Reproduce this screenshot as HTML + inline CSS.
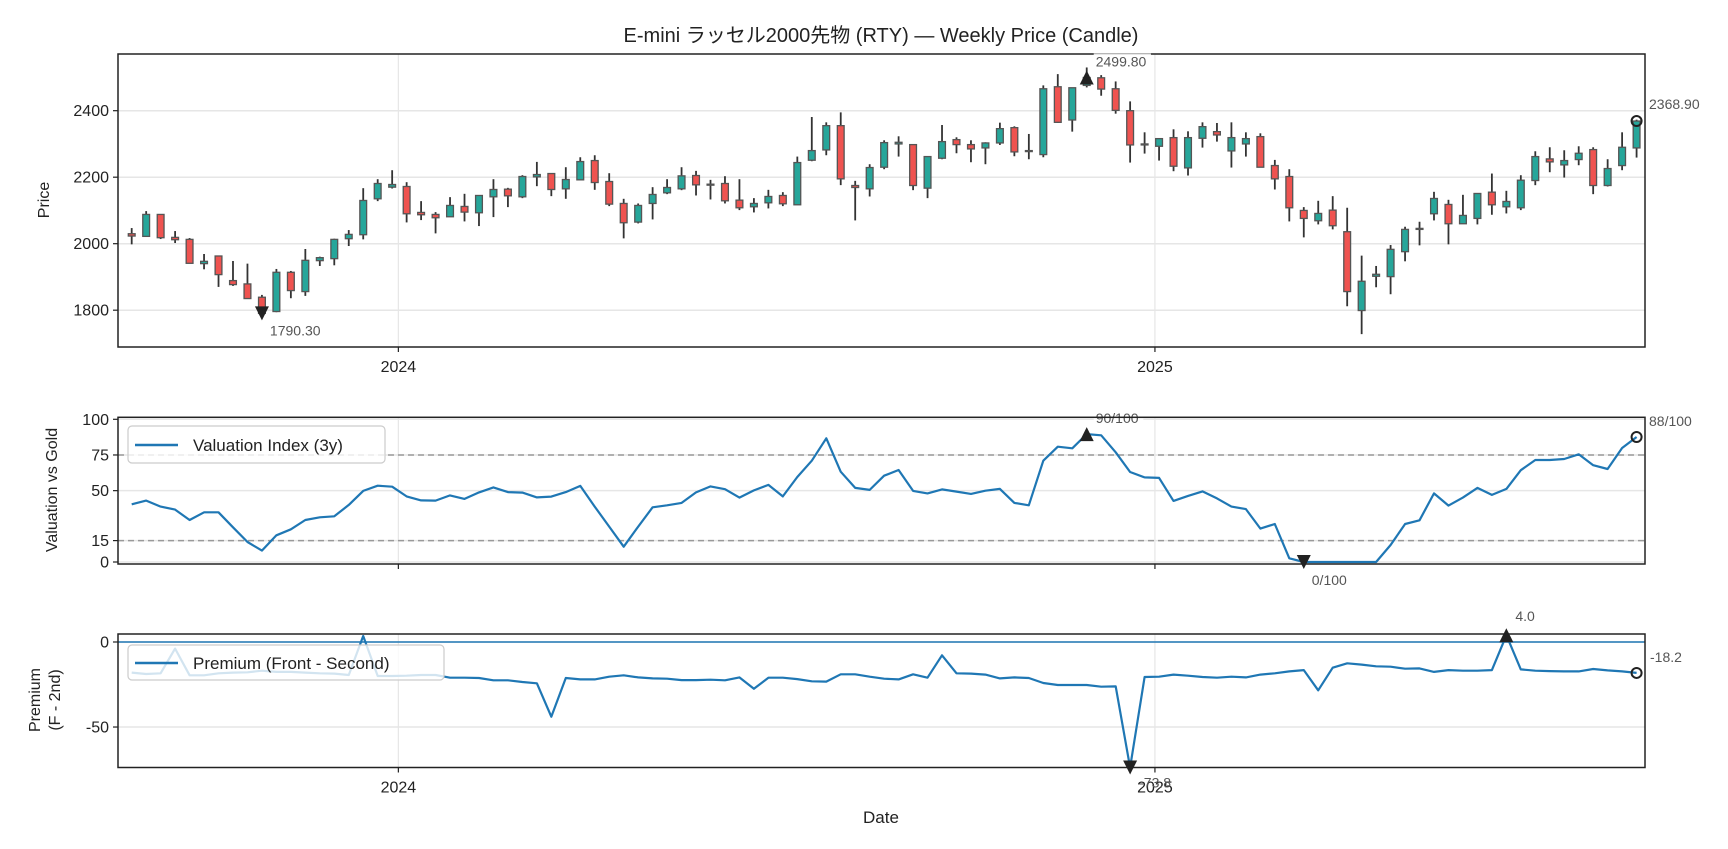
<!DOCTYPE html>
<html><head><meta charset="utf-8">
<style>
html,body{margin:0;padding:0;background:#fff;}
svg{display:block;font-family:"Liberation Sans","Noto Sans CJK JP",sans-serif;}
</style></head>
<body>
<svg id="chart" width="1728" height="849" viewBox="0 0 1728 849" xmlns="http://www.w3.org/2000/svg">
<rect x="0" y="0" width="1728" height="849" fill="#fff"/>
<text x="881" y="42" font-size="20" text-anchor="middle" fill="#222">E-mini ラッセル2000先物 (RTY) — Weekly Price (Candle)</text>
<g id="g1"></g><g id="g2"></g><g id="g3"></g>
</svg>
<script>
const opens=[2030,2022,2088,2019,2013,1940,1963,1889,1879,1839,1796,1914,1856,1949,1955,2015,2027,2135,2170,2172,2094,2088,2081,2112,2093,2141,2164,2141,2201,2211,2165,2192,2250,2187,2121,2065,2121,2153,2165,2205,2177,2181,2131,2111,2123,2145,2117,2251,2282,2355,2175,2165,2230,2300,2298,2167,2257,2313,2298,2288,2303,2349,2278,2268,2472,2372,2476,2499,2466,2400,2300,2293,2319,2228,2317,2337,2279,2300,2322,2235,2202,2100,2069,2101,2036,1799,1902,1901,1976,2044,2090,2118,2060,2076,2155,2111,2108,2190,2255,2237,2253,2283,2175,2235,2288];
const highs=[2047,2098,2088,2038,2017,1969,1963,1948,1940,1846,1924,1918,1984,1961,2015,2041,2167,2194,2221,2185,2128,2095,2140,2150,2145,2194,2168,2206,2246,2211,2230,2260,2266,2212,2135,2121,2170,2194,2230,2219,2192,2203,2194,2137,2162,2155,2262,2381,2365,2395,2189,2239,2311,2323,2298,2262,2357,2320,2311,2305,2364,2353,2330,2476,2510,2469,2530,2507,2488,2428,2335,2316,2344,2338,2365,2363,2365,2335,2332,2252,2224,2110,2129,2143,2108,1964,1933,1996,2051,2066,2156,2132,2147,2151,2211,2159,2206,2278,2290,2281,2293,2290,2254,2335,2373];
const lows=[1998,2022,2014,2002,1941,1923,1870,1873,1835,1788,1794,1836,1843,1933,1935,1993,2013,2128,2166,2064,2071,2031,2081,2067,2053,2080,2110,2137,2173,2143,2135,2192,2162,2113,2016,2061,2073,2149,2161,2145,2133,2121,2101,2094,2106,2113,2117,2248,2266,2176,2070,2142,2224,2262,2161,2137,2254,2272,2245,2239,2297,2263,2254,2260,2363,2337,2470,2445,2391,2244,2271,2250,2218,2205,2289,2307,2229,2262,2230,2163,2067,2019,2058,2043,1812,1728,1869,1848,1947,1995,2070,1998,2060,2058,2087,2091,2101,2176,2215,2199,2236,2149,2172,2221,2259];
const closes=[2023,2088,2018,2012,1941,1947,1907,1877,1835,1790.3,1914,1859,1950,1958,2013,2028,2130,2181,2178,2090,2087,2078,2115,2095,2145,2163,2144,2202,2208,2163,2193,2247,2184,2119,2063,2115,2148,2169,2204,2177,2179,2129,2108,2121,2142,2120,2244,2280,2355,2195,2169,2229,2304,2305,2175,2262,2307,2298,2285,2303,2346,2276,2280,2466,2365,2469,2499.8,2465,2401,2297,2299,2316,2233,2319,2352,2327,2319,2316,2230,2195,2108,2076,2091,2054,1856,1887,1908,1983,2043,2046,2136,2060,2085,2151,2117,2127,2191,2262,2246,2250,2272,2175,2226,2290,2368.9];
const valuation=[40.4,43,38.8,36.7,29.4,34.8,34.8,24.3,14,8,18.7,22.9,29.4,31.3,32,40,49.8,53.5,52.8,46,43.2,43,46.7,44.2,48.8,52.3,49,48.6,45.3,45.8,49,53.3,38.8,24.8,10.7,24.8,38.3,39.7,41.4,48.8,53,51,45.1,50.2,54,46,59.6,71,86.7,63.3,51.9,50.5,60.5,64.5,49.8,48.1,50.9,49.3,47.7,50,51.2,41.4,39.7,71,80.8,79.7,89.6,88.8,76.9,63.1,59.3,58.9,42.8,46.3,49.5,44.6,38.8,37.1,23.4,26.6,2.6,0,0,0,0,0,0,11.9,26.6,29.2,48.1,39.5,45.1,51.9,47,51.2,64.3,71.5,71.5,72.2,75.5,67.8,65.2,79.9,87.6];
const premium=[-18,-18.8,-18.4,-3.9,-19.6,-19.6,-18.4,-18,-17.8,-16.9,-17.6,-17.6,-18,-18.4,-18.6,-19.4,3.5,-20,-20,-19.8,-19.4,-19.4,-21,-21,-21.2,-22.5,-22.5,-23.5,-24.3,-43.9,-21.2,-22,-22,-20.4,-19.6,-20.8,-21.4,-21.6,-22.4,-22.4,-22.2,-22.5,-20.8,-27.5,-21,-21,-21.8,-23.1,-23.3,-19,-19,-20.4,-21.6,-22,-19,-21,-7.8,-18.4,-18.6,-19.2,-21.4,-20.8,-21.2,-24.1,-25.3,-25.3,-25.3,-26.3,-26.1,-73.8,-20.6,-20.4,-19.2,-19.8,-20.6,-21,-20.4,-20.8,-19.2,-18.4,-17.3,-16.5,-28.4,-15.1,-12.5,-13.3,-14.3,-14.5,-15.7,-15.5,-17.6,-16.5,-16.9,-16.9,-16.5,4.0,-16.1,-16.9,-17.1,-17.3,-17.3,-15.9,-16.7,-17.3,-18.2];
const priceTicks=[1800,2000,2200,2400];
const valTicks=[0,15,50,75,100];
const premTicks=[-50,0];
const yearTicks=["2024-01-01","2025-01-01"];
const yearLabels=["2024","2025"];
const startDate="2023-08-25";
const dates=[];
for(let i=0;i<closes.length;i++){dates.push(new Date(Date.parse(startDate)+i*7*86400000));}

const NS="http://www.w3.org/2000/svg";
const L=118,R=1645;
const d0=Date.parse(startDate);
function xs(d){return 131.7+((d-d0)/86400000)/7*14.47;}
function lin(d0v,d1v,r0,r1){return v=>r0+(v-d0v)/(d1v-d0v)*(r1-r0);}
const yP=lin(1689.3,2570.5,347,54);
const yV=lin(-1.4,101.4,564,417.3);
const yR=lin(-73.8,4.7,767.5,634);
function mk(tag,attrs,parent){const e=document.createElementNS(NS,tag);for(const k in attrs)e.setAttribute(k,attrs[k]);parent.appendChild(e);return e;}
function txt(parent,x,y,s,size,anchor,fill){const t=mk('text',{x:x,y:y,'font-size':size,'text-anchor':anchor||'start',fill:fill||'#222'},parent);t.textContent=s;return t;}

function panel(g,top,bot,ticks,yf,fmt,showX,name){
  for(const v of ticks){
    const l=mk('line',{x1:L,x2:R,y1:yf(v),y2:yf(v),stroke:'#e6e6e6','stroke-width':1.5},g);
    
    
    mk('line',{x1:L-5,x2:L,y1:yf(v),y2:yf(v),stroke:'#222','stroke-width':1.2},g);
    const t=txt(g,L-9,yf(v)+5.5,fmt(v),16,'end');
    
    
  }
  yearTicks.forEach((d,k)=>{
    const x=xs(Date.parse(d));
    mk('line',{x1:x,x2:x,y1:top,y2:bot,stroke:'#e6e6e6','stroke-width':1.2},g);
    mk('line',{x1:x,x2:x,y1:bot,y2:bot+5,stroke:'#222','stroke-width':1.2},g);
    if(showX){const t=txt(g,x,bot+25,yearLabels[k],16,'middle');
      
      }
  });
}
function frame(g,top,bot,name){
  const r=mk('rect',{x:L,y:top,width:R-L,height:bot-top,fill:'none',stroke:'#222','stroke-width':1.5},g);
  
  
}
function tri(g,x,y,up){const s=7;const p=up?`${x-s},${y+s} ${x+s},${y+s} ${x},${y-s}`:`${x-s},${y-s} ${x+s},${y-s} ${x},${y+s}`;return mk('polygon',{points:p,fill:'#222'},g);}
function note(g,x,y,s,bg){
  if(bg){mk('rect',{x:x-2,y:y-13,width:s.length*7.6+4,height:17,fill:'#fff','fill-opacity':0.85},g);}
  const t=txt(g,x,y,s,14,'start','#555');
  
  
}

/* Panel 1: candles */
const g1=document.getElementById('g1');
panel(g1,54,347,priceTicks,yP,v=>String(v),true,'price');
for(let i=0;i<closes.length;i++){
  const x=xs(dates[i].getTime());
  const up=closes[i]>=opens[i];
  const w=mk('line',{x1:x,x2:x,y1:yP(highs[i]),y2:yP(lows[i]),stroke:'#333','stroke-width':1.8},g1);
  
  
  const t=yP(Math.max(opens[i],closes[i])),b=yP(Math.min(opens[i],closes[i]));
  const r=mk('rect',{x:x-3.4,y:t,width:6.8,height:Math.max(b-t,1),fill:up?'#26a69a':'#ef5350',stroke:'#555','stroke-width':1.3},g1);
  
  
}
frame(g1,54,347,'price');
(function(){
  let mi=0,ma=0;for(let i=0;i<closes.length;i++){if(closes[i]<closes[mi])mi=i;if(closes[i]>closes[ma])ma=i;}
  const xm=xs(dates[mi].getTime()),xM=xs(dates[ma].getTime());
  tri(g1,xm,yP(closes[mi]),false);note(g1,xm+8,yP(closes[mi])+22,closes[mi].toFixed(2));
  tri(g1,xM,yP(closes[ma]),true);note(g1,xM+9,yP(closes[ma])-11,closes[ma].toFixed(2),true);
  const n=closes.length-1,xl=xs(dates[n].getTime());
  mk('circle',{cx:xl,cy:yP(closes[n]),r:5,fill:'none',stroke:'#222','stroke-width':2},g1);
  note(g1,1649,yP(closes[n])-12,closes[n].toFixed(2));
})();
const yl1=txt(g1,0,0,'Price',16,'middle');yl1.setAttribute('transform','translate(49,200) rotate(-90)');


/* Panel 2: valuation */
const g2=document.getElementById('g2');
panel(g2,417.3,564,valTicks,yV,v=>String(v),false,'valuation');
[75,15].forEach(v=>{const l=mk('line',{x1:L,x2:R,y1:yV(v),y2:yV(v),stroke:'#999','stroke-width':1.5,'stroke-dasharray':'6,4'},g2);
  });
(function(){
  let d='';for(let i=0;i<valuation.length;i++){d+=(i?'L':'M')+xs(dates[i].getTime()).toFixed(1)+','+yV(valuation[i]).toFixed(1);}
  const p=mk('path',{d:d,fill:'none',stroke:'#1f77b4','stroke-width':2.2,'stroke-linejoin':'round'},g2);
  
  let mi=0,ma=0;for(let i=0;i<valuation.length;i++){if(valuation[i]<valuation[mi])mi=i;if(valuation[i]>valuation[ma])ma=i;}
  const xm=xs(dates[mi].getTime()),xM=xs(dates[ma].getTime());
  tri(g2,xM,yV(valuation[ma]),true);note(g2,xM+9,yV(valuation[ma])-11,Math.round(valuation[ma])+'/100',true);
  tri(g2,xm,yV(valuation[mi]),false);note(g2,xm+8,yV(valuation[mi])+23,Math.round(valuation[mi])+'/100');
  const n=valuation.length-1,xl=xs(dates[n].getTime());
  mk('circle',{cx:xl,cy:yV(valuation[n]),r:5,fill:'none',stroke:'#222','stroke-width':2},g2);
  note(g2,1649,yV(valuation[n])-11,Math.round(valuation[n])+'/100');
})();
frame(g2,417.3,564,'valuation');
(function(){const lg=mk('g',{},g2);
  mk('rect',{x:128,y:426,width:257,height:37,rx:4,fill:'#fff','fill-opacity':0.8,stroke:'#ccc','stroke-width':1.2},lg);
  mk('line',{x1:135,x2:178,y1:445,y2:445,stroke:'#1f77b4','stroke-width':2.4},lg);
  txt(lg,193,451,'Valuation Index (3y)',17,'start');})();
const yl2=txt(g2,0,0,'Valuation vs Gold',16,'middle');yl2.setAttribute('transform','translate(57,490) rotate(-90)');


/* Panel 3: premium */
const g3=document.getElementById('g3');
panel(g3,634,767.5,premTicks,yR,v=>String(v),true,'premium');
mk('line',{x1:L,x2:R,y1:yR(0),y2:yR(0),stroke:'#1f77b4','stroke-width':1.5},g3);
(function(){
  let d='';for(let i=0;i<premium.length;i++){d+=(i?'L':'M')+xs(dates[i].getTime()).toFixed(1)+','+yR(premium[i]).toFixed(1);}
  const p=mk('path',{d:d,fill:'none',stroke:'#1f77b4','stroke-width':2.2,'stroke-linejoin':'round'},g3);
  
  let mi=0,ma=0;for(let i=0;i<premium.length;i++){if(premium[i]<premium[mi])mi=i;if(premium[i]>premium[ma])ma=i;}
  const xm=xs(dates[mi].getTime()),xM=xs(dates[ma].getTime());
  tri(g3,xM,yR(premium[ma]),true);note(g3,xM+9,yR(premium[ma])-14,premium[ma].toFixed(1));
  tri(g3,xm,yR(premium[mi]),false);note(g3,xm+9,yR(premium[mi])+20,premium[mi].toFixed(1));
  const n=premium.length-1,xl=xs(dates[n].getTime());
  mk('circle',{cx:xl,cy:yR(premium[n]),r:5,fill:'none',stroke:'#222','stroke-width':2},g3);
  note(g3,1650,yR(premium[n])-11,premium[n].toFixed(1));
})();
frame(g3,634,767.5,'premium');
(function(){const lg=mk('g',{},g3);
  mk('rect',{x:128,y:645,width:316,height:35,rx:4,fill:'#fff','fill-opacity':0.8,stroke:'#ccc','stroke-width':1.2},lg);
  mk('line',{x1:135,x2:178,y1:663,y2:663,stroke:'#1f77b4','stroke-width':2.4},lg);
  txt(lg,193,669,'Premium (Front - Second)',17,'start');})();
const yl3=txt(g3,0,0,'Premium',16,'middle');yl3.setAttribute('transform','translate(40,700) rotate(-90)');

const yl3b=txt(g3,0,0,'(F - 2nd)',16,'middle');yl3b.setAttribute('transform','translate(60,700) rotate(-90)');

const xl=txt(g3,881,823,'Date',17,'middle');

</script>
</body></html>
